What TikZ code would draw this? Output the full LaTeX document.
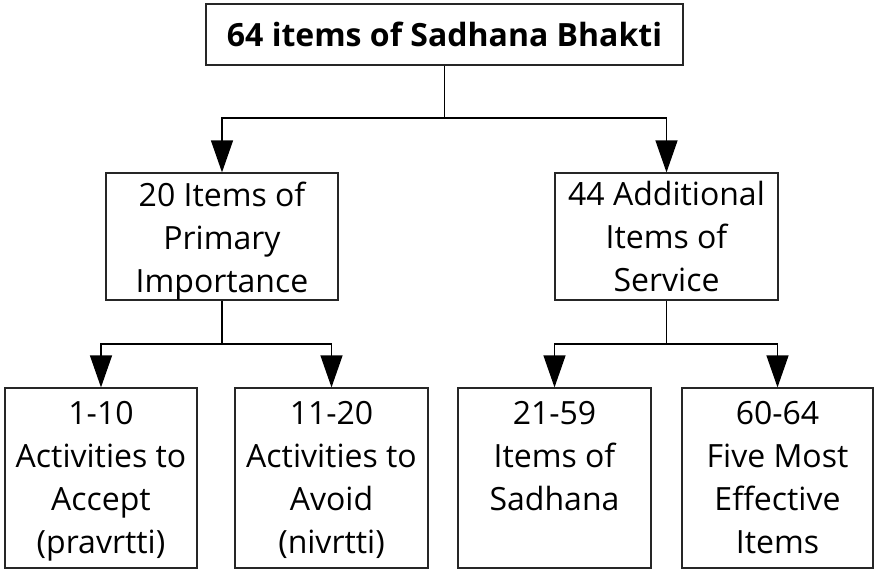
\documentclass[tikz,border=0pt]{standalone}
\usepackage{fontspec}
\setmainfont{Open Sans}
\usetikzlibrary{arrows.meta}
\begin{document}
\begin{tikzpicture}[x=1pt,y=-1pt,
  box/.style={draw=black!85,line width=1.2pt,inner sep=0pt},
  lbl/.style={inner sep=0pt,align=center,anchor=north,font=\fontsize{32}{43}\selectfont},
  arr/.style={line width=1.2pt,-{Triangle[length=32pt,width=22pt]}},
  con/.style={line width=1.2pt}]
\useasboundingbox (0,0) rectangle (874,570);
% boxes
\node[box,minimum width=477pt,minimum height=61pt,font=\fontsize{32}{43}\selectfont\bfseries] (top) at (444.5,34.5) {64 items of Sadhana Bhakti};
\node[box,minimum width=232pt,minimum height=127pt] (m1) at (222,236.5) {};
\node[box,minimum width=223pt,minimum height=127pt] (m2) at (666.5,236.5) {};
\node[box,minimum width=192pt,minimum height=180pt] (b1) at (101,478) {};
\node[box,minimum width=193pt,minimum height=180pt] (b2) at (331.5,478) {};
\node[box,minimum width=193pt,minimum height=180pt] (b3) at (554.5,478) {};
\node[box,minimum width=191pt,minimum height=180pt] (b4) at (777.5,478) {};
% labels
\node[lbl] (t1) at ([yshift=-9pt]m1.north) {20 Items of\\Primary\\Importance};
\node[lbl] (t2) at ([yshift=-9pt]m2.north) {44 Additional\\Items of\\Service};
\node[lbl] (t3) at ([yshift=-14pt]b1.north) {1-10\\Activities to\\Accept\\(pravrtti)};
\node[lbl] (t4) at ([yshift=-14pt]b2.north) {11-20\\Activities to\\Avoid\\(nivrtti)};
\node[lbl] (t5) at ([yshift=-14pt]b3.north) {21-59\\Items of\\Sadhana};
\node[lbl] (t6) at ([yshift=-14pt]b4.north) {60-64\\Five Most\\Effective\\Items};
% junctions
\coordinate (j0) at (top.south |- 0,118);
\coordinate (j1) at (m1.south |- 0,344);
\coordinate (j2) at (m2.south |- 0,344);
% connectors
\draw[con] (top.south) -- (j0);
\draw[arr] (j0) -| (m1.north);
\draw[arr] (j0) -| (m2.north);
\draw[con] (m1.south) -- (j1);
\draw[arr] (j1) -| (b1.north);
\draw[arr] (j1) -| (b2.north);
\draw[con] (m2.south) -- (j2);
\draw[arr] (j2) -| (b3.north);
\draw[arr] (j2) -| (b4.north);
\end{tikzpicture}
\end{document}
